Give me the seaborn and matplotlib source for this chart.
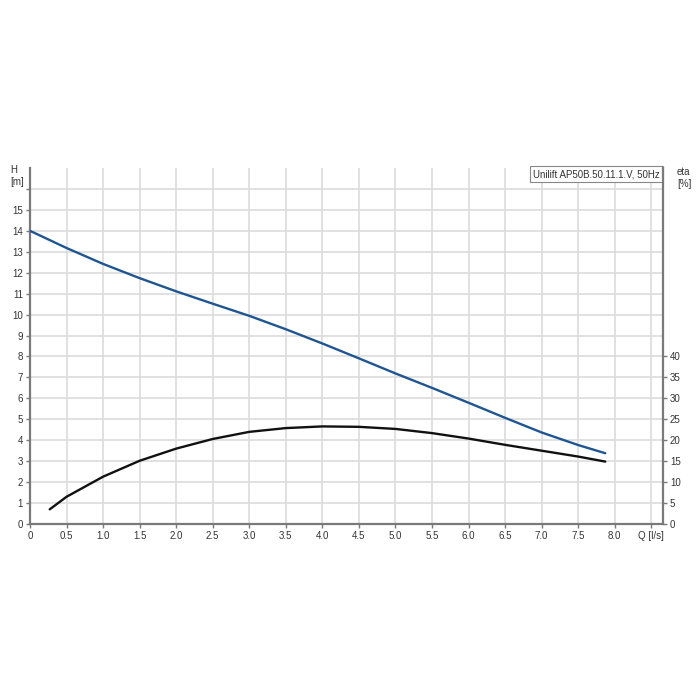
import matplotlib
matplotlib.use("Agg")
import matplotlib.pyplot as plt
import seaborn as sns
import pandas as pd

# ---- data ----
q_h = [0.0, 0.5, 1.0, 1.5, 2.0, 2.5, 3.0, 3.5, 4.0, 4.5, 5.0, 5.5, 6.0, 6.5, 7.0, 7.5, 7.87]
head_m = [14.0, 13.18, 12.42, 11.74, 11.11, 10.52, 9.94, 9.30, 8.62, 7.91, 7.19, 6.50, 5.79, 5.07, 4.37, 3.77, 3.38]

q_eta = [0.27, 0.5, 1.0, 1.5, 2.0, 2.5, 3.0, 3.5, 4.0, 4.5, 5.0, 5.5, 6.0, 6.5, 7.0, 7.5, 7.87]
eta_pct = [3.5, 6.5, 11.3, 15.1, 18.0, 20.3, 22.0, 22.9, 23.3, 23.2, 22.7, 21.7, 20.4, 18.9, 17.5, 16.1, 14.9]

x_ticks = [0, 0.5, 1.0, 1.5, 2.0, 2.5, 3.0, 3.5, 4.0, 4.5, 5.0, 5.5, 6.0, 6.5, 7.0, 7.5, 8.0, 8.5]
x_labels = ["0", "0.5", "1.0", "1.5", "2.0", "2.5", "3.0", "3.5", "4.0", "4.5",
            "5.0", "5.5", "6.0", "6.5", "7.0", "7.5", "8.0", "Q [l/s]"]
h_ticks = list(range(0, 17))
h_labels = [str(v) for v in range(0, 16)] + [""]
eta_ticks = list(range(0, 45, 5))
title_text = "Unilift AP50B.50.11.1.V, 50Hz"

df_h = pd.DataFrame({"Q": q_h, "H": head_m})
df_eta = pd.DataFrame({"Q": q_eta, "eta": eta_pct})

sns.set_theme(style="white")
plt.rcParams["font.family"] = ["Liberation Sans", "DejaVu Sans"]

fig = plt.figure(figsize=(7, 7), dpi=100)
ax = fig.add_axes([30 / 700, 1 - 524 / 700, (663 - 30) / 700, (524 - 168) / 700])
ax2 = ax.twinx()

grid_c = "#dcdcdc"
spine_c = "#7a7a7a"
txt_c = "#333333"

ax.set_xlim(0, 8.66)
ax.set_ylim(0, 17)
ax2.set_ylim(0, 85)

for v in x_ticks:
    ax.axvline(v, color=grid_c, lw=1.2, zorder=0)
for v in h_ticks:
    ax.axhline(v, color=grid_c, lw=1.2, zorder=0)

sns.lineplot(data=df_h, x="Q", y="H", ax=ax, color="#1f5591", lw=1.7, zorder=3)
sns.lineplot(data=df_eta, x="Q", y="eta", ax=ax2, color="#111111", lw=1.7, zorder=3)

ax.set_xticks(x_ticks)
ax.set_xticklabels(x_labels)
ax.set_yticks(h_ticks)
ax.set_yticklabels(h_labels)
ax2.set_yticks(eta_ticks)
ax2.set_yticklabels([str(v) for v in eta_ticks])

ax.set_xlabel("")
ax.set_ylabel("")
ax2.set_ylabel("")

ax.tick_params(axis="both", which="both", direction="out", length=3, width=1,
               color=spine_c, labelsize=7, labelcolor=txt_c, pad=2,
               bottom=True, left=True)
ax2.tick_params(axis="y", direction="out", length=3, width=1, color=spine_c,
                labelsize=7, labelcolor=txt_c, pad=2, right=True)

for a in (ax, ax2):
    a.spines["top"].set_visible(False)
    for s in ("left", "bottom", "right"):
        a.spines[s].set_color(spine_c)
        a.spines[s].set_linewidth(1.6)
ax.spines["right"].set_visible(False)
ax2.spines["left"].set_visible(False)
ax2.spines["bottom"].set_visible(False)

fig.text(10 / 700, 1 - 176 / 700, "H\n[m]", fontsize=7, color=txt_c,
         ha="left", va="center", linespacing=1.3)
fig.text(677 / 700, 1 - 178 / 700, "eta\n[%]", fontsize=7, color=txt_c,
         ha="left", va="center", linespacing=1.3)

ax.text(0.995, 0.997, title_text, transform=ax.transAxes, fontsize=7,
        color=txt_c, ha="right", va="top", zorder=5,
        bbox=dict(boxstyle="square,pad=0.35", fc="white", ec="#888888", lw=0.8))

fig.savefig("out.png", dpi=100, facecolor="white")
